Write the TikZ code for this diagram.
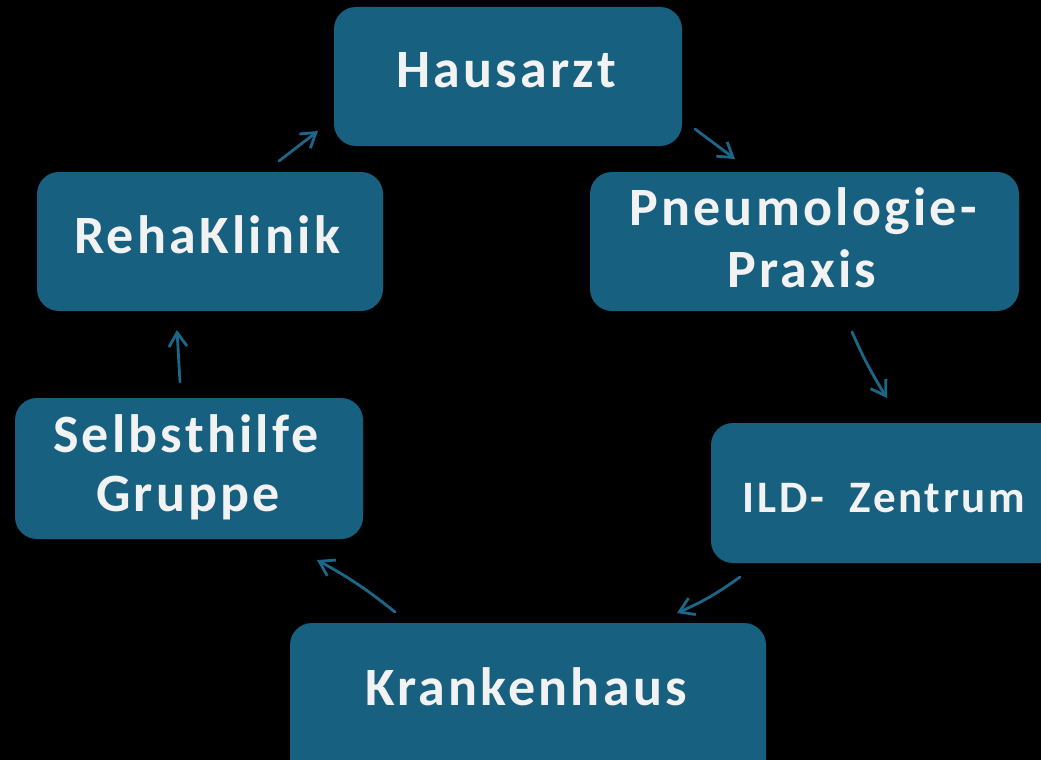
\documentclass[tikz,border=0pt]{standalone}
\usepackage{fontspec}
\setmainfont{Carlito}
\newfontfamily\lblfont[LetterSpace=6]{Carlito}
\usetikzlibrary{arrows.meta}
\definecolor{boxblue}{HTML}{17607F}
\definecolor{txtwhite}{HTML}{F2F2F2}
\definecolor{arrblue}{HTML}{1C6788}
\begin{document}
\begin{tikzpicture}[x=1pt,y=-1pt,
  box/.style={fill=boxblue, rounded corners=22pt, draw=none, inner sep=0pt},
  lbl/.style={anchor=base, text=txtwhite, inner sep=0pt,
    font=\lblfont\bfseries\fontsize{54}{60}\selectfont},
  lblsmall/.style={lbl, font=\lblfont\bfseries\fontsize{45}{50}\selectfont},
  conn/.style={draw=arrblue, line width=2.8pt, line cap=round,
    -{Straight Barb[length=14pt,width=18pt,line width=2.8pt]}}
]
\fill[black] (0,0) rectangle (1041,760);
\useasboundingbox (0,0) rectangle (1041,760);
\clip (0,0) rectangle (1041,760);

% boxes
\node[box, minimum width=348pt, minimum height=139pt] (haus) at (508,76.5) {};
\node[box, minimum width=429pt, minimum height=139pt] (pneu) at (804.5,241.5) {};
\node[box, minimum width=350pt, minimum height=140pt] (ild) at (886,493) {};
\node[box, minimum width=476pt, minimum height=177pt] (kh) at (528,711.5) {};
\node[box, minimum width=348pt, minimum height=141pt] (shg) at (189,468.5) {};
\node[box, minimum width=346pt, minimum height=139pt] (reha) at (210,241.5) {};

% labels
\node[lbl] (hausT) at (506,87) {Hausarzt};
\node[lbl] (pneuT1) at (803,225) {Pneumologie-};
\node[lbl] (pneuT2) at (802,287) {Praxis};
\node[lblsmall] (ildT) at (884,512) {ILD-\ \ Zentrum};
\node[lbl] (khT) at (526,705) {Krankenhaus};
\node[lbl] (shgT1) at (186,452) {Selbsthilfe};
\node[lbl] (shgT2) at (188,511) {Gruppe};
\node[lbl] (rehaT) at (207,253) {RehaKlinik};

% connector end points
\coordinate (a1s) at (279,161); \coordinate (a1e) at (318,131);
\coordinate (a2s) at (695,129); \coordinate (a2e) at (735,159);
\coordinate (a3s) at (852,332); \coordinate (a3e) at (887,398);
\coordinate (a4s) at (740,577); \coordinate (a4e) at (677,613);
\coordinate (a5s) at (395,612); \coordinate (a5e) at (317,560);
\coordinate (a6s) at (180,382); \coordinate (a6e) at (177,330);

\draw[conn] (a1s) -- (a1e);
\draw[conn] (a2s) -- (a2e);
\draw[conn] (a3s) to[bend right=4] (a3e);
\draw[conn] (a4s) to[bend left=6] (a4e);
\draw[conn] (a5s) to[bend right=5] (a5e);
\draw[conn] (a6s) -- (a6e);
\end{tikzpicture}
\end{document}
